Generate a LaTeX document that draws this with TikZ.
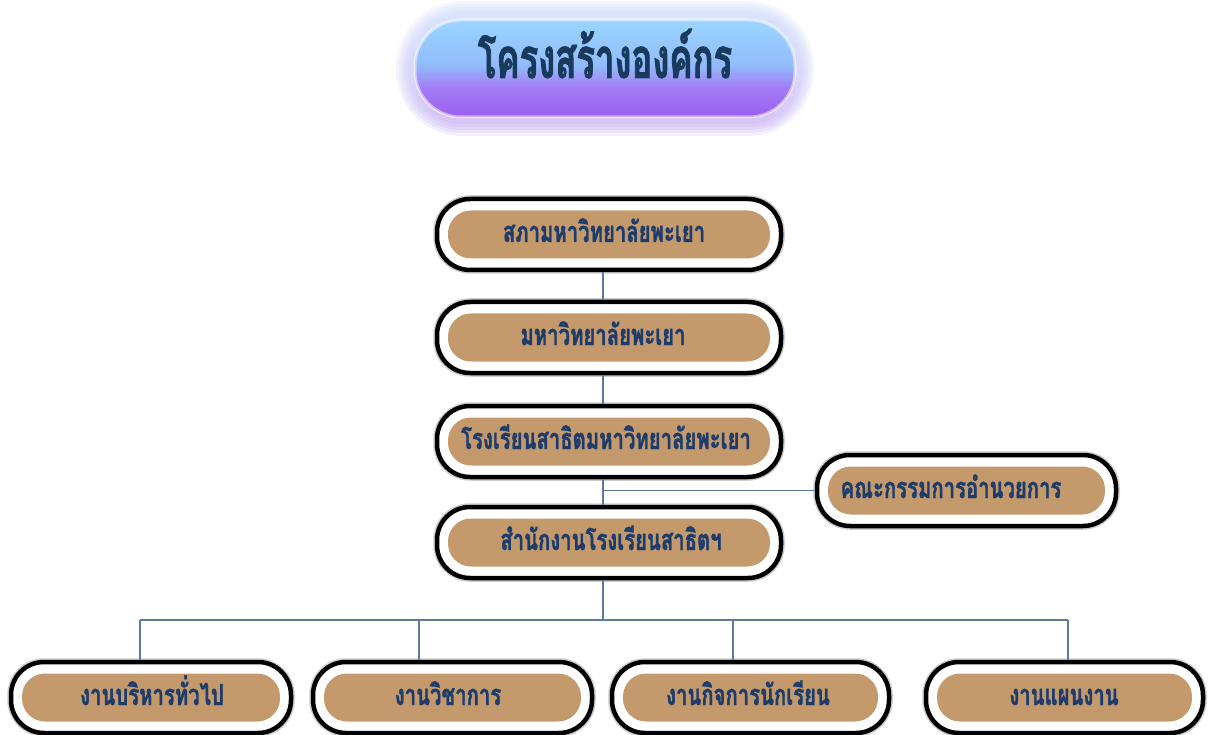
\documentclass[tikz,border=0pt]{standalone}
\usepackage{fontspec}
\newfontfamily\thaifont[Script=Thai,FakeStretch=0.70,BoldFeatures={FakeBold=1.2}]{Loma}
\newfontfamily\thaititle[Script=Thai,FakeStretch=0.62,BoldFeatures={FakeBold=1.5}]{Loma}
\definecolor{tanfill}{HTML}{C49A6C}
\definecolor{navytext}{HTML}{1D3C6B}
\definecolor{titletext}{HTML}{183A5C}
\definecolor{linec}{HTML}{5C7AA0}
\definecolor{tpa}{HTML}{8E3CE0}
\definecolor{tpb}{HTML}{9A52EE}
\definecolor{tpc}{HTML}{A47CF6}
\definecolor{tpd}{HTML}{92BCFB}
\definecolor{tpe}{HTML}{98D0FF}
\definecolor{tpf}{HTML}{BDE6FF}
\definecolor{gla}{HTML}{C9A4F2}
\definecolor{glb}{HTML}{D9D4FA}
\definecolor{glc}{HTML}{D6EEFF}
\pgfdeclareverticalshading{titleshade}{100bp}{color(0bp)=(tpa); color(20bp)=(tpb); color(40bp)=(tpc); color(52bp)=(tpd); color(70bp)=(tpe); color(100bp)=(tpf)}
\pgfdeclareverticalshading{glowshade}{100bp}{color(0bp)=(gla); color(45bp)=(glb); color(100bp)=(glc)}
\newcommand\orgbox[7]{%
  \node[outerbox, minimum width=#4] (#1) at (#2,#3) {};
  \node[innerbox, minimum width=#4-22] (#1-in) at (#1.center) {};
  \node[boxtext] (#1-t) at (#6,#3+7.5) {#5};
}
\begin{document}
\begin{tikzpicture}[x=1pt,y=-1pt,
  outerbox/.style={draw=black, line width=4.5pt, fill=white, rounded corners=33pt,
     minimum height=71pt, inner sep=0pt, preaction={draw=black!20, line width=7.5pt}},
  innerbox/.style={fill=tanfill, rounded corners=23pt, minimum height=48pt, inner sep=0pt},
  boxtext/.style={anchor=base, inner sep=0pt, text=navytext, font=\thaifont\bfseries\fontsize{29}{29}\selectfont},
  conn/.style={draw=linec, line width=1.3pt},
  titletxt/.style={anchor=base, inner sep=0pt, text=titletext, font=\thaititle\bfseries\fontsize{56}{56}\selectfont}
]
\useasboundingbox[fill=white] (0,0) rectangle (1213,735);
% title glow
\foreach \e/\o in {16/0.25,13/0.3,10/0.35,7/0.45,4/0.6}{
  \shade[shading=glowshade, opacity=\o, rounded corners=50pt+\e] (412-\e,17-\e) rectangle (798+\e,120+\e);
}
\node[shade, shading=titleshade, draw=white, draw opacity=0.5, line width=3pt, rounded corners=46pt,
  minimum width=380pt, minimum height=97pt, inner sep=0pt] (titlepill) at (605,68.5) {};
\node[titletxt] (title) at (605,78) {โครงสร้างองค์กร};
% boxes
\orgbox{b1}{609}{234.5}{344}{สภามหาวิทยาลัยพะเยา}{604}{}
\orgbox{b2}{609}{337.5}{344}{มหาวิทยาลัยพะเยา}{603}{}
\orgbox{b3}{609}{441.5}{344}{โรงเรียนสาธิตมหาวิทยาลัยพะเยา}{606}{}
\orgbox{b4}{609}{542.5}{344}{สำนักงานโรงเรียนสาธิตฯ}{611}{}
\orgbox{side}{966.5}{490.5}{299}{คณะกรรมการอำนวยการ}{951}{}
\orgbox{c1}{151}{697.5}{280}{งานบริหารทั่วไป}{152}{}
\orgbox{c2}{452.5}{697.5}{279}{งานวิชาการ}{448}{}
\orgbox{c3}{750.5}{697.5}{277}{งานกิจการนักเรียน}{748}{}
\orgbox{c4}{1064.5}{697.5}{277}{งานแผนงาน}{1064}{}
% connectors
\coordinate (spine) at (603,0);
\coordinate (bus) at (0,620);
\coordinate (d1) at (140,0);
\coordinate (d2) at (419,0);
\coordinate (d3) at (733,0);
\coordinate (d4) at (1068,0);
\draw[conn] (b1.south -| spine) -- (b2.north -| spine);
\draw[conn] (b2.south -| spine) -- (b3.north -| spine);
\draw[conn] (b3.south -| spine) -- (b4.north -| spine);
\draw[conn] (spine |- side.west) -- (side.west);
\draw[conn] (b4.south -| spine) -- (bus -| spine);
\draw[conn] (bus -| d1) -- (bus -| d4);
\draw[conn] (bus -| d1) -- (c1.north -| d1);
\draw[conn] (bus -| d2) -- (c2.north -| d2);
\draw[conn] (bus -| d3) -- (c3.north -| d3);
\draw[conn] (bus -| d4) -- (c4.north -| d4);
\end{tikzpicture}
\end{document}
